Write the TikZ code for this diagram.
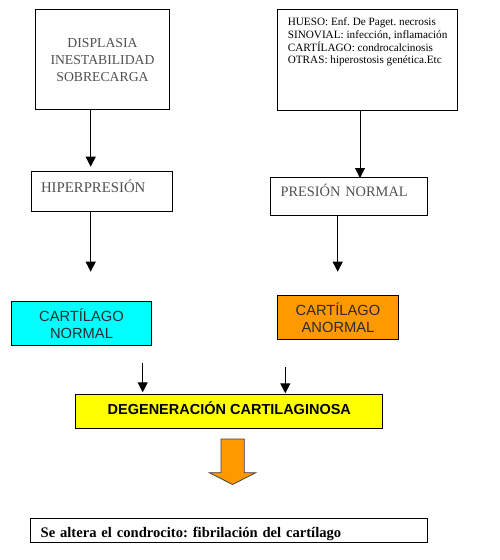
\documentclass[tikz,border=0pt]{standalone}
\usepackage{fontspec}
\setmainfont{Liberation Serif}
\setsansfont{Liberation Sans}
\usetikzlibrary{arrows.meta}
\frenchspacing

\definecolor{cian}{RGB}{0,255,255}
\definecolor{naranja}{RGB}{255,153,0}
\definecolor{amarillo}{RGB}{255,255,0}
\definecolor{grisclaro}{RGB}{80,80,80}
\definecolor{grisoscuro}{RGB}{45,45,45}

\begin{document}
\begin{tikzpicture}[x=1pt, y=-1pt,
  caja/.style={draw, line width=1pt, inner sep=0pt, anchor=north west},
  flecha/.style={line width=1pt, -{Triangle[width=10pt,length=10pt]}}]

\useasboundingbox (0,0) rectangle (499,560);

% 上方两个原因框
\node[caja, minimum width=134.6pt, minimum height=100pt, align=center,
  text=grisclaro, font=\fontsize{13.7}{17}\selectfont] (causas) at (34.7,9.3)
  {DISPLASIA\\INESTABILIDAD\\SOBRECARGA};
\node[caja, inner xsep=10pt, font=\fontsize{11.2}{12.7}\selectfont] (otras) at (277.3,9.3)
  {\parbox[b][100.7pt][t]{160pt}{\raggedright
  \rule{0pt}{16pt}HUESO: Enf. De Paget. necrosis\\
  SINOVIAL: infección, inflamación\\
  CARTÍLAGO: condrocalcinosis\\
  OTRAS: hiperostosis genética.Etc}};

% 压力框
\node[caja, minimum width=141.6pt, minimum height=39.4pt, text width=122pt,
  inner xsep=9.3pt, align=left, text height=10pt, text depth=9pt,
  text=grisclaro, font=\fontsize{14.8}{17}\selectfont] (hiper) at (30.7,171.3) {HIPERPRESIÓN};
\node[caja, minimum width=157.3pt, minimum height=38.3pt, text width=137.3pt,
  inner xsep=10pt, align=left, text height=10pt, text depth=9pt,
  text=grisclaro, font=\fontsize{14.4}{17}\selectfont] (presion) at (270,176.7) {PRESIÓN NORMAL};

% 软骨框
\node[caja, fill=cian, minimum width=139.4pt, minimum height=44.6pt, align=center,
  text=grisoscuro, font=\sffamily\fontsize{14.7}{17.4}\selectfont] (normal) at (11.3,300.7)
  {CARTÍLAGO\\NORMAL};
\node[caja, fill=naranja, minimum width=120.4pt, minimum height=44.6pt, align=center,
  text=grisoscuro, font=\sffamily\fontsize{14.7}{17.4}\selectfont] (anormal) at (277.3,294.7)
  {CARTÍLAGO\\ANORMAL};

% 软骨退变框
\node[caja, fill=amarillo, minimum width=307pt, minimum height=34pt,
  text height=11pt, text depth=6.6pt,
  font=\sffamily\bfseries\fontsize{14.5}{17}\selectfont] (degen) at (75.3,394.3)
  {DEGENERACIÓN CARTILAGINOSA};

% 最后的结果框
\node[caja, minimum width=397pt, minimum height=24pt, text width=377.3pt,
  inner xsep=9.7pt, align=left, text height=13pt, text depth=0pt,
  font=\bfseries\fontsize{14.6}{17}\selectfont] (final) at (30.3,518.3)
  {Se altera el condrocito: fibrilación del cartílago};

% 细箭头
\coordinate (p1) at (90.7,166.7);
\coordinate (p2) at (360,178);
\coordinate (p3) at (90.7,271.7);
\coordinate (p4) at (337.7,271.7);
\coordinate (q1) at (142.7,363.3);
\coordinate (q2) at (285.3,367.3);
\draw[flecha] (causas.south -| p1) -- (p1);
\draw[flecha] (otras.south -| p2) -- (p2);
\draw[flecha] (hiper.south -| p3) -- (p3);
\draw[flecha] (presion.south -| p4) -- (p4);
\draw[flecha, shorten >=2pt] (q1) -- (q1 |- degen.north);
\draw[flecha, shorten >=1pt] (q2) -- (q2 |- degen.north);

% 橙色粗箭头
\filldraw[fill=naranja, draw=black!75, line width=0.8pt]
  (221,439) -- (244.3,439) -- (244.3,472.7) -- (255.7,472.7)
  -- (232.5,484.5) -- (209.3,472.7) -- (221,472.7) -- cycle;

\end{tikzpicture}
\end{document}
